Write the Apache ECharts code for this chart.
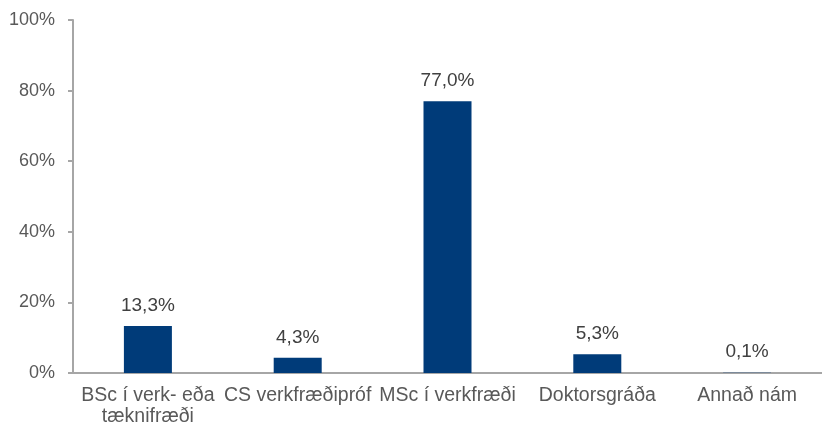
<!DOCTYPE html>
<html>
<head>
<meta charset="utf-8">
<script src="https://cdn.jsdelivr.net/npm/echarts@6/dist/echarts.min.js"></script>
<style>
	html, body { margin: 0; padding: 0; background: #fff; }
	#chart { width: 822px; height: 428px; }
</style>
</head>
<body>
<div id="chart"></div>
<script>
	var categories = ["BSc í verk- eða\ntæknifræði", "CS verkfræðipróf", "MSc í verkfræði", "Doktorsgráða", "Annað nám"];
	var values = [13.3, 4.3, 77.0, 5.3, 0.1];
	var yTicks = [0, 20, 40, 60, 80, 100];

	var font = "Liberation Sans, Arial, sans-serif";
	var myChart = echarts.init(document.getElementById("chart"));
	var option = {
		animation: false,
		grid: {
			left: 73,
			top: 20,
			width: 758,
			height: 353,
			containLabel: false
		},
		xAxis: {
			type: "category",
			data: categories,
			axisTick: { show: false },
			axisLine: { lineStyle: { color: "#a6a6a6", width: 2 } },
			axisLabel: {
				color: "#595959",
				fontSize: 19.5,
				fontFamily: font,
				margin: 12,
				lineHeight: 21,
				interval: 0
			}
		},
		yAxis: {
			type: "value",
			min: yTicks[0],
			max: yTicks[yTicks.length - 1],
			interval: 20,
			splitLine: { show: false },
			axisLine: { show: true, lineStyle: { color: "#a6a6a6", width: 2 } },
			axisTick: { show: true, length: 5, lineStyle: { color: "#a6a6a6", width: 2 } },
			axisLabel: {
				color: "#595959",
				fontSize: 18,
				fontFamily: font,
				margin: 18,
				formatter: "{value}%"
			}
		},
		series: [{
			type: "bar",
			data: values,
			barWidth: 48,
			itemStyle: { color: "#003b79" },
			label: {
				show: true,
				position: "top",
				distance: 11,
				color: "#404040",
				fontSize: 19,
				fontFamily: font,
				formatter: function (p) {
					return p.value.toFixed(1).replace(".", ",") + "%";
				}
			}
		}]
	};
	myChart.setOption(option);
</script>
</body>
</html>
